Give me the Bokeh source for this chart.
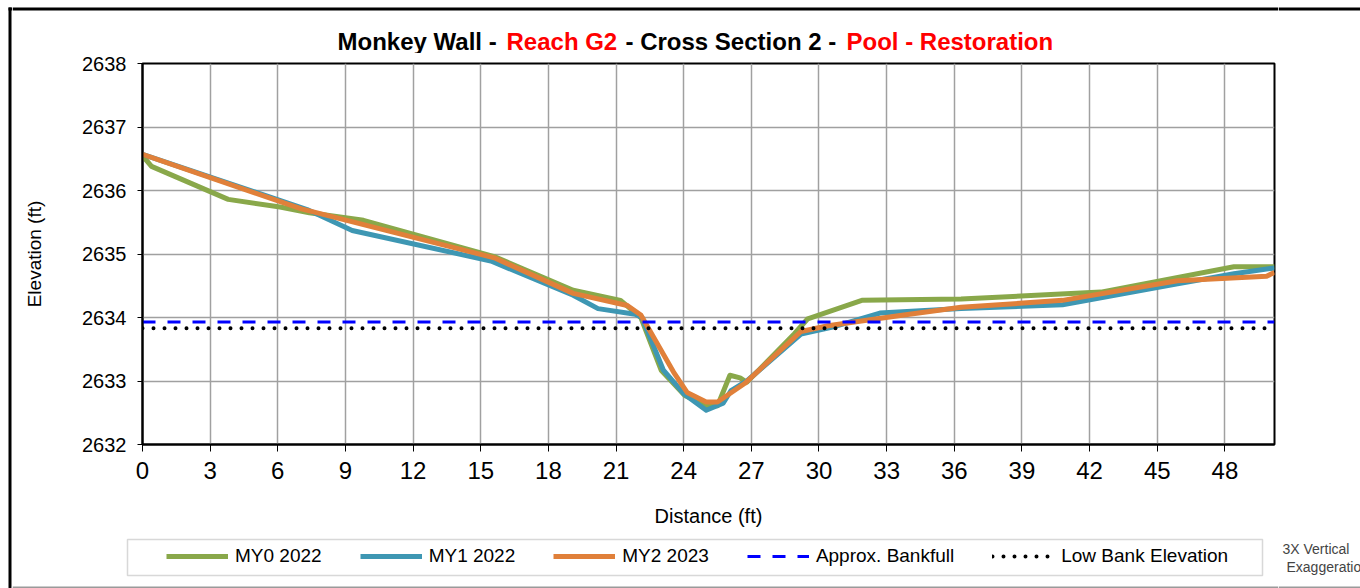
from bokeh.plotting import figure
from bokeh.layouts import row, column
from bokeh.models import (Range1d, FixedTicker, Legend, LegendItem, Label, BoxAnnotation)
from bokeh.embed import file_html
from bokeh.resources import INLINE

# ---------------- data ----------------
my0_x = [0, 0.4, 3.8, 6.1, 7.4, 9.8, 15.6, 19.1, 21.2, 22.1, 23.0, 24.05, 25.0, 25.5,
         26.05, 26.5, 26.8, 28.9, 29.5, 31.9, 36.3, 42.5, 48.4, 50.2]
my0_y = [2636.55, 2636.38, 2635.86, 2635.74, 2635.65, 2635.53, 2634.96, 2634.43, 2634.27,
         2634.0, 2633.17, 2632.77, 2632.61, 2632.61, 2633.09, 2633.05, 2632.98, 2633.74,
         2633.98, 2634.27, 2634.29, 2634.40, 2634.80, 2634.80]

my1_x = [0, 7.3, 9.3, 15.45, 19.1, 20.2, 21.85, 22.15, 23.1, 24.0, 25.0, 25.75, 26.1,
         26.8, 29.2, 30.6, 32.7, 36.3, 40.8, 45.9, 48.4, 50.2]
my1_y = [2636.57, 2635.70, 2635.37, 2634.89, 2634.35, 2634.14, 2634.05, 2634.0, 2633.17,
         2632.80, 2632.54, 2632.65, 2632.85, 2633.0, 2633.74, 2633.85, 2634.07, 2634.14,
         2634.20, 2634.53, 2634.69, 2634.78]

my2_x = [0, 7.05, 15.6, 19.1, 21.5, 22.1, 23.55, 24.15, 25.0, 25.5, 26.7, 29.2, 30.4,
         33.6, 36.3, 40.8, 45.9, 49.85, 50.2]
my2_y = [2636.57, 2635.71, 2634.94, 2634.38, 2634.19, 2634.04, 2633.14, 2632.82, 2632.67,
         2632.67, 2632.96, 2633.78, 2633.87, 2634.03, 2634.16, 2634.27, 2634.58, 2634.65,
         2634.71]

bankfull_elev = 2633.93
low_bank_elev = 2633.83
x_extent = [0, 50.2]

x_ticks = [0, 3, 6, 9, 12, 15, 18, 21, 24, 27, 30, 33, 36, 39, 42, 45, 48]
y_ticks = [2632, 2633, 2634, 2635, 2636, 2637, 2638]

series_names = ["MY0 2022", "MY1 2022", "MY2 2023", "Approx. Bankfull", "Low Bank Elevation"]
title_parts = ["Monkey Wall -", "Reach G2", "- Cross Section 2 -", "Pool - Restoration"]
title_colors = ["black", "red", "black", "red"]
note_lines = ["3X Vertical", "Exaggeration"]

# series styles (shared by the chart lines and their legend keys)
styles = [
    dict(line_color="#89A84A", line_width=5, line_join="round"),
    dict(line_color="#3E97B3", line_width=5, line_join="round"),
    dict(line_color="#E0803A", line_width=5, line_join="round"),
    dict(line_color="#0000FF", line_width=3, line_dash="13 12"),
    dict(line_color="black", line_width=4, line_dash="0 11", line_cap="round"),
]

FONT = "Liberation Sans"
PAGE_W, PAGE_H = 1360, 588
STRIP_W = 12
NOTE_X = 1278
HEAD_H = 53
MAIN_W = NOTE_X - STRIP_W
MAIN_TOP_BORDER = 10
MAIN_H = 534 - HEAD_H
BOT_H = PAGE_H - HEAD_H - MAIN_H


def blank(width, height, xr, yr):
    f = figure(width=width, height=height, output_backend="svg", toolbar_location=None,
               x_range=Range1d(*xr), y_range=Range1d(*yr),
               x_axis_type=None, y_axis_type=None, min_border=0)
    f.frame_align = False
    f.outline_line_color = None
    f.background_fill_color = "white"
    f.border_fill_color = "white"
    f.grid.visible = False
    return f


def box(f, l, r, t, b, color="black"):
    f.add_layout(BoxAnnotation(left=l, right=r, top=t, bottom=b, fill_color=color,
                               fill_alpha=1, line_alpha=0))


# ---------- left strip (outer chart border, left side) ----------
strip = blank(STRIP_W, PAGE_H, (0, STRIP_W), (PAGE_H, 0))
box(strip, 8, 11, 7, PAGE_H)
box(strip, 8, STRIP_W, 7, 10)
box(strip, 11, STRIP_W, 586, PAGE_H, "#9a9a9a")

# ---------- header with mixed-colour title ----------
head = blank(MAIN_W, HEAD_H, (STRIP_W, NOTE_X), (HEAD_H, 0))
box(head, STRIP_W, NOTE_X, 7, 10)
title_x = [337, 506, 625, 846]
for txt, px, col in zip(title_parts, title_x, title_colors):
    head.add_layout(Label(x=px, y=41, text=txt, text_color=col, text_font=FONT,
                          text_font_size="24px", text_font_style="bold",
                          text_align="left", text_baseline="middle"))

# ---------- right column with the side note ----------
note = blank(PAGE_W - NOTE_X, PAGE_H, (NOTE_X, PAGE_W), (PAGE_H, 0))
box(note, NOTE_X, PAGE_W, 7, 10)
box(note, NOTE_X, PAGE_W, 586, PAGE_H, "#9a9a9a")
note.add_layout(Label(x=1282, y=548, text=note_lines[0], text_font=FONT,
                      text_font_size="14px", text_align="left", text_baseline="middle"))
note.add_layout(Label(x=1286, y=566, text=note_lines[1], text_font=FONT,
                      text_font_size="14px", text_align="left", text_baseline="middle"))

# ---------- main chart ----------
p = figure(width=MAIN_W, height=MAIN_H, output_backend="svg", toolbar_location=None,
           x_range=Range1d(0, 50.2), y_range=Range1d(2632, 2638),
           min_border_left=130, min_border_right=4, min_border_top=MAIN_TOP_BORDER,
           min_border_bottom=MAIN_H - MAIN_TOP_BORDER - 381)
p.background_fill_color = "white"
p.border_fill_color = "white"
p.outline_line_color = "black"
p.outline_line_width = 2

p.xaxis.ticker = FixedTicker(ticks=x_ticks)
p.yaxis.ticker = FixedTicker(ticks=y_ticks)
for ax in (p.xaxis, p.yaxis):
    ax.axis_line_color = "black"
    ax.axis_line_width = 2
    ax.major_tick_line_color = "black"
    ax.major_tick_line_width = 1
    ax.major_tick_in = 0
    ax.minor_tick_line_color = None
    ax.major_label_text_font = FONT
    ax.major_label_text_color = "black"
    ax.axis_label_text_font = FONT
    ax.axis_label_text_font_style = "normal"
    ax.axis_label_text_color = "black"
p.xaxis.major_tick_out = 7
p.yaxis.major_tick_out = 5
p.xaxis.major_label_text_font_size = "24px"
p.yaxis.major_label_text_font_size = "20px"
p.xaxis.major_label_standoff = 10
p.yaxis.major_label_standoff = 11
p.xaxis.axis_label = "Distance (ft)"
p.yaxis.axis_label = "Elevation (ft)"
p.xaxis.axis_label_text_font_size = "20px"
p.yaxis.axis_label_text_font_size = "19px"
p.xaxis.axis_label_standoff = 23
p.yaxis.axis_label_standoff = 34

p.xgrid.ticker = FixedTicker(ticks=x_ticks)
p.ygrid.ticker = FixedTicker(ticks=y_ticks)
p.grid.grid_line_color = "#a0a0a0"
p.grid.grid_line_width = 1.5

series = [(my0_x, my0_y), (my1_x, my1_y), (my2_x, my2_y),
          (x_extent, [bankfull_elev] * 2), (x_extent, [low_bank_elev] * 2)]
for (xs, ys), st in zip(series, styles):
    p.line(xs, ys, **st)

# ---------- bottom strip: legend box + legend ----------
bot_top = HEAD_H + MAIN_H
bot = blank(MAIN_W, BOT_H, (STRIP_W, NOTE_X), (PAGE_H, bot_top))
bot.add_layout(BoxAnnotation(left=127, right=1262, top=539, bottom=575, fill_color="white",
                             fill_alpha=1, line_color="#7f7f7f", line_width=1.5))
box(bot, STRIP_W, NOTE_X, 586, PAGE_H, "#9a9a9a")
# legend keys: the same series in this strip (their values fall outside its visible range)
keys = [bot.line(xs, ys, **st) for (xs, ys), st in zip(series, styles)]
legend = Legend(items=[LegendItem(label=n, renderers=[k]) for n, k in zip(series_names, keys)],
                orientation="horizontal", location=(158 - STRIP_W, PAGE_H - 575),
                border_line_alpha=0, background_fill_alpha=0,
                glyph_width=62, glyph_height=20, label_standoff=7, spacing=38,
                padding=8, margin=0, label_text_font=FONT, label_text_font_size="19px",
                label_text_color="black", label_height=20)
bot.add_layout(legend)

layout = row(strip, column(head, p, bot), note)
open("out.html", "w").write(file_html(layout, INLINE))
